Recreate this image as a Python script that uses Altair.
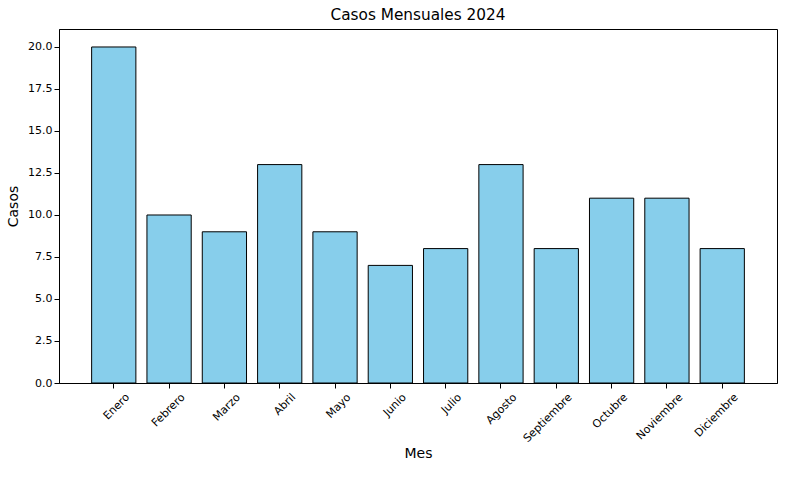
import altair as alt
import pandas as pd

meses = ["Enero", "Febrero", "Marzo", "Abril", "Mayo", "Junio", "Julio",
         "Agosto", "Septiembre", "Octubre", "Noviembre", "Diciembre"]
casos = [20, 10, 9, 13, 9, 7, 8, 13, 8, 11, 11, 8]
y_ticks = [0, 2.5, 5, 7.5, 10, 12.5, 15, 17.5, 20]

df = pd.DataFrame({"Mes": meses, "Casos": casos})
FONT = "DejaVu Sans"

chart = alt.Chart(df).mark_bar(
    color="#87CEEB", stroke="black", strokeWidth=1
).encode(
    x=alt.X("Mes:N", sort=meses,
            scale=alt.Scale(paddingInner=0.2, paddingOuter=0.59),
            axis=alt.Axis(title="Mes", labelAngle=-45, labelAlign="right",
                          labelBaseline="top", labelOffset=10, labelPadding=3,
                          titlePadding=3)),
    y=alt.Y("Casos:Q", scale=alt.Scale(domain=[0, 21.07], nice=False),
            axis=alt.Axis(title="Casos", values=y_ticks, format=".1f",
                          titlePadding=7)),
).properties(
    width=718, height=354,
    title=alt.Title("Casos Mensuales 2024", fontSize=15.3, font=FONT,
                    fontWeight="normal", color="black", offset=6),
    autosize=alt.AutoSizeParams(type="none"),
    padding={"left": 59, "top": 29, "right": 23, "bottom": 97},
).configure_view(
    stroke="black", strokeWidth=1
).configure_axis(
    grid=False, domainColor="black", tickColor="black", tickSize=5,
    labelFont=FONT, labelFontSize=11, labelColor="black",
    titleFont=FONT, titleFontSize=14, titleFontWeight="normal", titleColor="black",
)

chart.save("out.html", embed_options={"renderer": "svg", "actions": False})
